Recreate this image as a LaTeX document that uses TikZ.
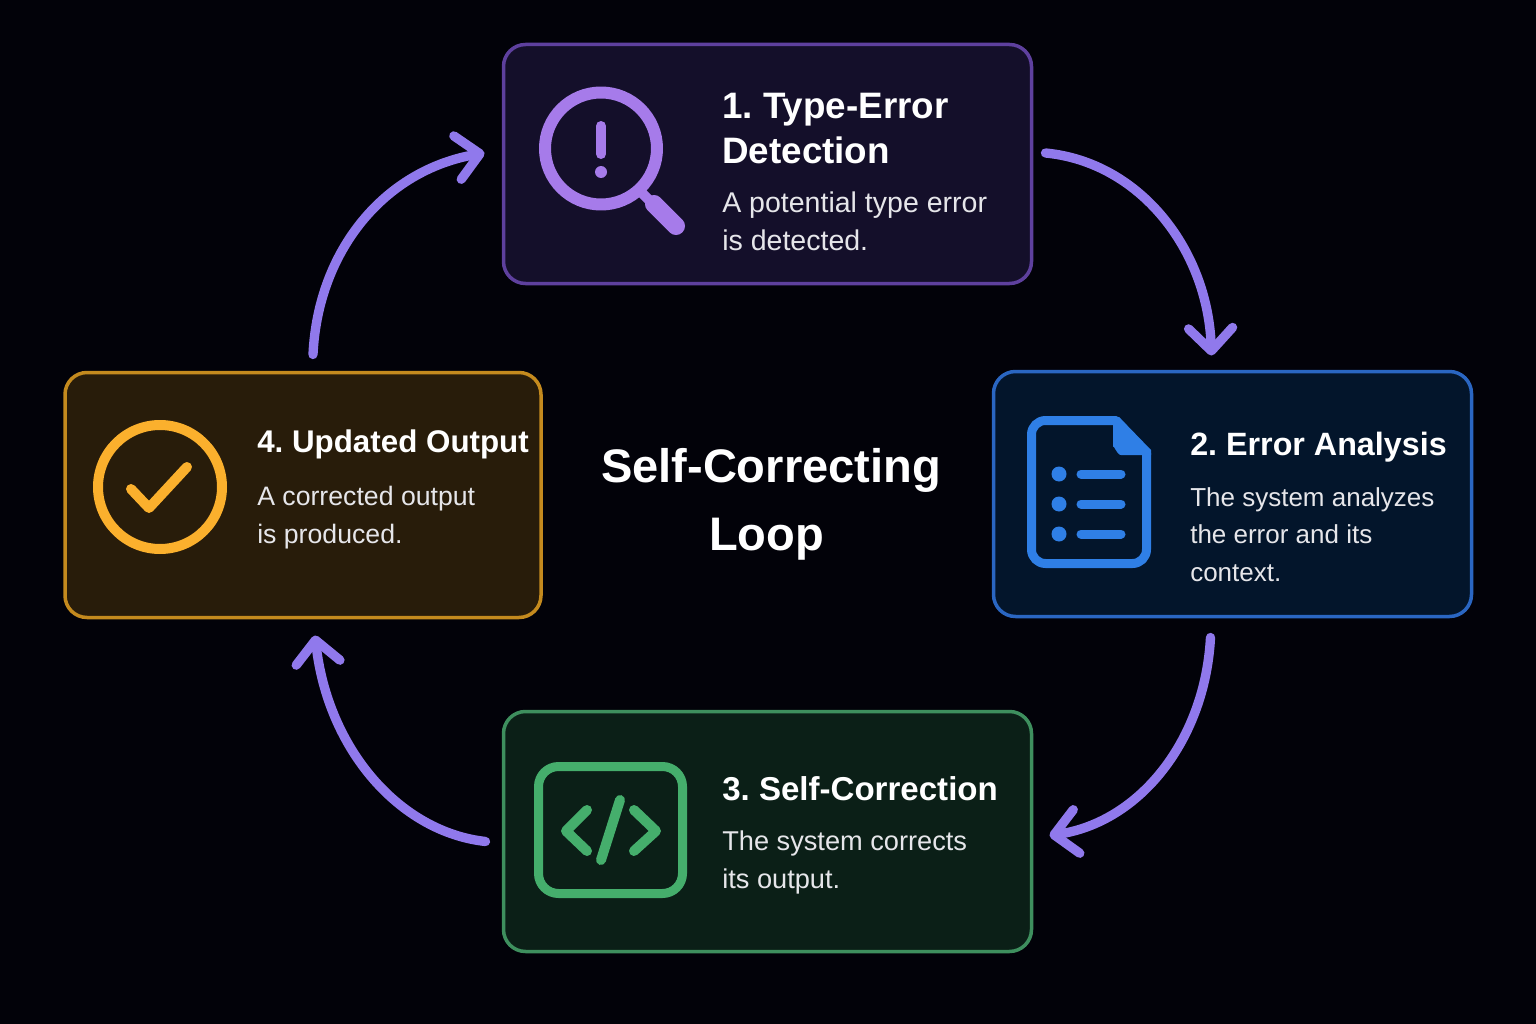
\documentclass[tikz,border=0pt]{standalone}
\usepackage{fontspec}
\usetikzlibrary{arrows.meta}
\setmainfont{Liberation Sans}
\frenchspacing
\newdimen\px \px=0.75pt
\definecolor{bgc}{HTML}{020209}
\definecolor{fa}{HTML}{140F2A}\definecolor{la}{HTML}{5E409E}\definecolor{ia}{HTML}{A67BEA}
\definecolor{fb}{HTML}{03152B}\definecolor{lb}{HTML}{2A66C2}\definecolor{ib}{HTML}{2F7FE6}
\definecolor{fc}{HTML}{0B1F17}\definecolor{lc}{HTML}{3E8F5E}\definecolor{ic}{HTML}{45AE6C}
\definecolor{fd}{HTML}{281C0A}\definecolor{ld}{HTML}{C48A1E}\definecolor{id}{HTML}{FBB02D}
\definecolor{arc}{HTML}{9079EC}\definecolor{bodyc}{HTML}{E6E6EA}
\tikzset{
 card/.style={draw,line width=3.5\px,rounded corners=22\px,outer sep=0pt,inner sep=0pt},
 ttl/.style={anchor=base west,text=white,inner sep=0pt,align=left,font=\fontsize{#1}{33.75pt}\selectfont\bfseries},
 bod/.style={anchor=base west,text=bodyc,inner sep=0pt,align=left,font=\fontsize{#1}{28.1pt}\selectfont},
 center title/.style={anchor=base,text=white,inner sep=0pt,align=center,font=\fontsize{35.3pt}{51pt}\selectfont\bfseries},
 flow/.style={draw=arc,line width=7pt,line cap=round,-{Straight Barb[length=17pt,width=33pt,round]}},
 ico/.style={line cap=round,line join=round},
}
\begin{document}
\begin{tikzpicture}[x=0.75pt,y=-0.75pt]
\useasboundingbox[fill=bgc] (0,0) rectangle (1536,1024);
\node[card,draw=la,fill=fa,minimum width=528\px,minimum height=239\px] (b1) at (767.5,164) {};
\node[card,draw=lb,fill=fb,minimum width=478\px,minimum height=245\px] (b2) at (1232.5,494) {};
\node[card,draw=lc,fill=fc,minimum width=528\px,minimum height=240\px] (b3) at (767.5,831.5) {};
\node[card,draw=ld,fill=fd,minimum width=476\px,minimum height=245\px] (b4) at (303,495) {};
% magnifier
\begin{scope}[ico,draw=ia,fill=ia]
\draw[line width=12\px] (601,148.5) circle[radius=56];
\draw[line width=10\px,line cap=butt] (637,188) -- (652,203);
\draw[line width=18\px] (654,204) -- (676,226);
\draw[line width=10\px] (601,126) -- (601,154);
\fill (601,172) circle[radius=6];
\end{scope}
% document
\begin{scope}[ico,draw=ib,fill=ib]
\draw[line width=9\px] (1116,420.5) [rounded corners=14\px] -- (1031.5,420.5) -- (1031.5,563.5) -- (1146.5,563.5) -- (1146.5,480) [sharp corners] -- (1146.5,453) -- cycle;
\fill (1113,417) -- (1119,417) -- (1151,450) -- (1151,455) -- (1121,455) to[out=180,in=90] (1113,447) -- cycle;
\foreach \yy in {474,504,534}{
 \fill (1059,\yy) circle[radius=7.5];
 \draw[line width=9\px] (1081,\yy) -- (1121,\yy);
}
\end{scope}
% code
\begin{scope}[ico,draw=ic,line width=10\px]
\draw[line width=9\px,rounded corners=20\px] (538.5,766.5) rectangle (682.5,893.5);
\draw (587,810) -- (566,831) -- (587,851);
\draw (634,810) -- (656,831) -- (634,851);
\draw (620,800) -- (601,860);
\end{scope}
% check
\begin{scope}[ico,draw=id]
\draw[line width=10\px] (160,487) circle[radius=62];
\draw[line width=10\px] (131,489) -- (149,508) -- (187,467);
\end{scope}
% texts
\node[ttl=27.6pt] (t1) at (722,163) {1. Type-Error\\Detection};
\node[bod=21.4pt] (d1) at (722,250) {A potential type error\\is detected.};
\node[ttl=24.2pt] (t2) at (1190,455) {2. Error Analysis};
\node[bod=19.5pt] (d2) at (1190,581) {The system analyzes\\the error and its\\context.};
\node[ttl=24.8pt] (t3) at (722,800) {3. Self-Correction};
\node[bod=20.4pt] (d3) at (722,888) {The system corrects\\its output.};
\node[ttl=23.5pt] (t4) at (257,452) {4. Updated Output};
\node[bod=20pt] (d4) at (257,543) {A corrected output\\is produced.};
\node[center title] (ct) at (771,550) {Self-Correcting\\Loop\hspace*{9\px}};
% connectors
\coordinate (a1s) at ([shift={(14,-11)}]b1.east);
\coordinate (a1e) at ([shift={(-21,-16)}]b2.north);
\coordinate (a2s) at ([shift={(-22,21)}]b2.south);
\coordinate (a2e) at ([shift={(18,4)}]b3.east);
\coordinate (a3s) at ([shift={(-18,10)}]b3.west);
\coordinate (a3e) at ([shift={(12,18)}]b4.south);
\coordinate (a4s) at ([shift={(10,-18)}]b4.north);
\coordinate (a4e) at ([shift={(-19,-11)}]b1.west);
\draw[flow] (a1s) .. controls (1140,162) and (1208,250) .. (a1e);
\draw[flow] (a2s) .. controls (1205,740) and (1140,822) .. (a2e);
\draw[flow] (a3s) .. controls (400,832) and (328,750) .. (a3e);
\draw[flow] (a4s) .. controls (318,250) and (385,170) .. (a4e);
\end{tikzpicture}
\end{document}
